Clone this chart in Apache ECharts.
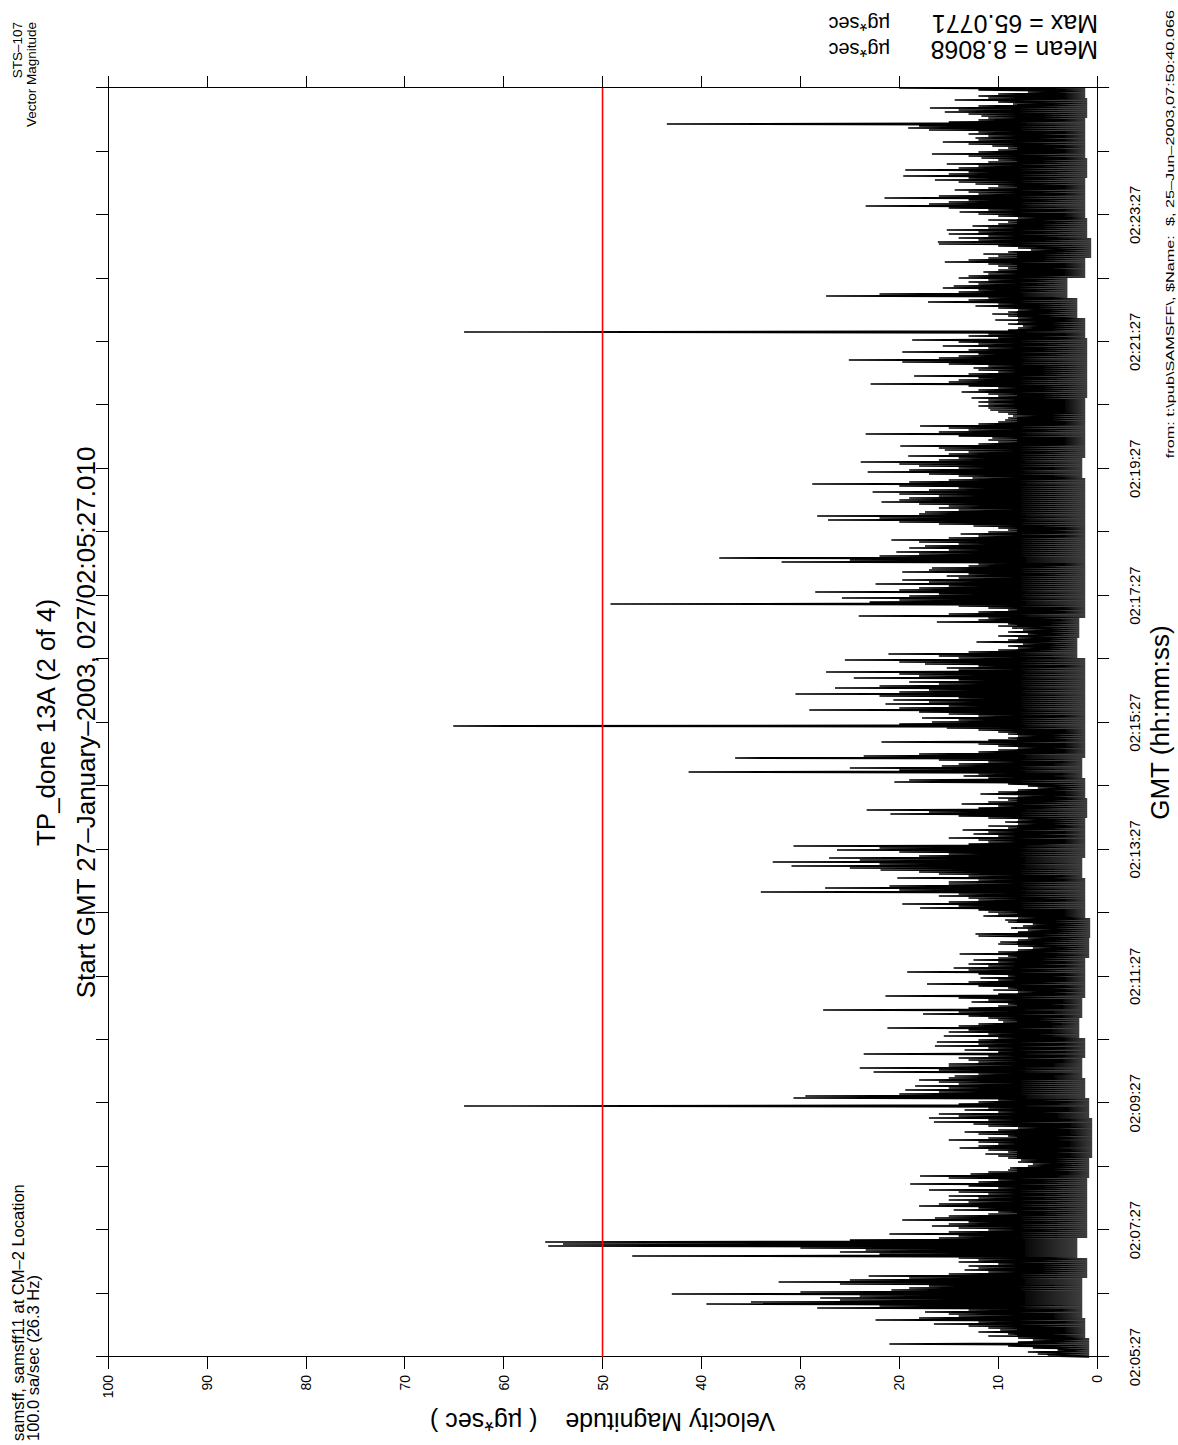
<!DOCTYPE html>
<html><head><meta charset="utf-8">
<script src="https://cdn.jsdelivr.net/npm/echarts@6/dist/echarts.min.js"></script>
<style>
html,body{margin:0;padding:0;width:1178px;height:1445px;overflow:hidden;background:#fff}
#chart{position:absolute;left:0;top:0;width:1445px;height:1178px;transform-origin:0 0;transform:translate(0,1445px) rotate(-90deg);}
</style></head><body><div id="chart"></div>
<script>
// Time tick labels (every 2 minutes, from 02:05:27)
const timeLabels = ['02:05:27','02:07:27','02:09:27','02:11:27','02:13:27','02:15:27','02:17:27','02:19:27','02:21:27','02:23:27'];
const durationSec = 1200;
// Upper envelope of |v| (µg*sec), one value per ~1.9 s
const hi = [
5,6,7,4,6.5,9,21,8,6.5,8, 11,9,12,9.8,11,13,16.5,12,22.4,18, 14,15,17.4,13,28.3,22,39.5,35,26,28,
24,43,30,20.8,19,17,26,32.2,25,19, 23.1,15,11,13.4,12,13,10,14,12,14, 47,22,26,23.4,30,55.5,54,55.8,25,16,
14,21,15,11,14,16.7,15,13,19.7,16.4, 15,11,10,14.5,12,18,16,
13,15,12,15,11,14,17,10,13,18.9, 12,10,15,17.9,12.8,11,9,8.8,7,6.5, 8,7.7,9,10,11.3,9,11,13.9,12,10,
12,15,11,9,12,13.4,10,8,11,12.5, 16.5,11,17,14,16,10,13.4,11,64,14, 12,10,30.7,29.5,20,16,19.4,15,18.4,14,
16,18,15,14.4,12,22.6,16,24,15,15, 12,13,14,11,23.6,10,13.4,11,16.4,12,
16.2,12,10,15.5,11,15,13,21.2,14,12, 9.5,10,11,13,17.6,14,27.7,13,10,9, 12.7,11,14,21.4,10,8,10.5,9,12,17.2,
13,10,11.8,9,12,19.2,13,14.5,11,13, 10,12.5,10,9,13.9,10,8,6.5,8,10, 9.8,8,7,12,12.3,8,7,8.7,7.5,6.5,
9,9.3,8,11.5,10,11,12,17.9,14,19.7, 15,12,13,16,14,34,20,27.5,21,15,
15,12,20.2,13,16,18,21.9,25,30.9,22, 32.8,24,27.1,18,15,20,26.3,22,30.7,13, 11,12,15,10,12.5,11,13.6,9,11,8,
9.3,8,11,14,20.9,17,23.3,12,10,13.7, 11,9,10,8,11.8,10,8,6,7,9, 20.5,19,11,13.5,12,41.3,20,25,15.7,14,
11,16,36.6,23.6,18,12,10,8,10,12, 21.8,11,9,8,9,10,12,15.2,65.1,20,
16.7,14,17.7,12,15,18,29.1,20,15,21.4, 17,20.6,14,22,30.5,20,17,26.5,22,16, 19,14,24.6,18,20,27.4,14,15.2,12,17.4,
20,25.5,14,16,21.1,13,10,8,9,7.5, 12.2,9,8,10,7,9,7.5,8.6,10,9, 16.2,12,11,24.1,15,12,9,11,14,49.2,
23,20,25.8,19,16,28.5,20,18,15,22.4, 17,19.7,14,15.2,13,19.7,17,16.7,13,12,
31.9,25,38.2,22,18,20.3,15,19,17.4,14, 18,20.8,15,12,13.8,11,9,10,12.5,16, 20,27.2,22,28.3,18,17.4,14,16,15,18,
21.8,20,19,16,20,22.7,17,14,20,28.8, 19,15,12.6,14,17,23.2,19,14,18,20, 23.9,16,14,19.1,15,13,15.4,16,19.9,12,
10,11,10.6,14,23.4,16,13,15,17.9,12, 10,9.3,9,8.5,9,10,10.8,11,12,11,
12,11,12.7,10,11,13.7,12,10,13,22.9, 15,14,12,18.5,13,10,12,12.5,11,15, 19.7,25.1,16,14,12,19.7,13,11,15.6,12,
14,18.7,10,13,11,64,9,8,7.5,9, 8,10.3,8,9,10.6,9,8,10,12.3,10, 17.1,13,11,27.4,22,14,12,15.6,14.5,12,
13,11,14,13,11,11.5,10,9,10,11, 15.4,13,11,10,11.5,9,6.7,8,10,16,
16.1,12,14,11,15,12,15.2,11,12.6,10, 9,11,8,10,12,13.9,11,15,23.4,17, 15,13,21.5,16,12,13,14.4,11,10,12.3,
14,16.4,13,19.6,15,13,19.4,14,12,15.2, 11,10,11.7,13,16.7,12,10,9,10.6,13, 15.6,12,12.3,11,13,12,17,19.1,18,43.5,
15,12,11,11.7,13,15.4,14,16.9,12,8.5, 10,14.4,11,12,10,7,12,20
];
// Lower envelope, one value per block of 10 samples
const lo = [
0.8,1.2,1.5,1.5,1,2,1,1, 1,0.8,0.5,0.5,0.8,1.2,1.5,1.2,
1.8,1.5,1.2,1.2,0.8,0.7,1.2,1.2, 1.5,1.2,1.2,1,1.2,1.5,1.2,1.2,
1.2,1.2,1.2,2,1.8,1.2,1.2,1.2, 1.2,1.2,1.2,1.2,1.5,1.2,1.2,1.2,
1,1,1,1.2,2,3,1.2,0.6, 1,1.2,1.2,1,1.2,1.2,1,1.2
];
const meanText = 'Mean = 8.8068';
const maxText = 'Max = 65.0771';
const unitText = 'µg*sec';
const thresholdValue = 50;

const FONT = '"Liberation Sans", Arial, Helvetica, sans-serif';
const step = durationSec / (hi.length - 0.5);
const pts = [];
hi.forEach((h, k) => {
  const t = k * step;
  pts.push([t, lo[Math.floor(k / 10)]]);
  pts.push([t + step / 2, h]);
});

const chart = echarts.init(document.getElementById('chart'), null, {renderer: 'svg'});
const axisCommon = {
  axisLine: {show: true, onZero: false, lineStyle: {color: '#000', width: 1}},
  axisTick: {show: true, inside: false, length: 12, lineStyle: {color: '#000', width: 1}},
  splitLine: {show: false}
};
const txt = (x, y, text, size, align, vAlign, rot, sx) => ({
  type: 'text', x: x, y: y, rotation: rot || 0, scaleX: sx || 1, silent: true,
  style: {text: text, fill: '#000', font: size + 'px ' + FONT, align: align, verticalAlign: vAlign}
});
chart.setOption({
  animation: false,
  backgroundColor: '#fff',
  textStyle: {fontFamily: FONT},
  grid: {left: 88, right: 88, top: 108, bottom: 79.5, containLabel: false},
  xAxis: [
    Object.assign({
      type: 'value', min: 0, max: durationSec, interval: 60, position: 'bottom',
      axisLabel: {show: true, margin: 30, color: '#000', fontSize: 15, fontFamily: FONT,
        formatter: v => (v % 120 === 0 && v < durationSec) ? timeLabels[v / 120] : ''},
      name: 'GMT (hh:mm:ss)', nameLocation: 'middle', nameGap: 43,
      nameTextStyle: {fontSize: 26, color: '#000', fontFamily: FONT}
    }, axisCommon),
    Object.assign({
      type: 'value', min: 0, max: durationSec, interval: 60, position: 'top',
      axisLabel: {show: false}
    }, axisCommon)
  ],
  yAxis: [
    Object.assign({
      type: 'value', min: 0, max: 100, interval: 10, position: 'left',
      axisLabel: {show: true, margin: 18, color: '#000', fontSize: 14, fontFamily: FONT},
      name: 'Velocity Magnitude    ( µg*sec )', nameLocation: 'middle', nameGap: 50, nameRotate: 90,
      nameTextStyle: {fontSize: 25, color: '#000', fontFamily: FONT}
    }, axisCommon),
    Object.assign({
      type: 'value', min: 0, max: 100, interval: 10, position: 'right',
      axisLabel: {show: false}
    }, axisCommon)
  ],
  series: [{
    type: 'line', data: pts, symbol: 'none', showSymbol: false, clip: true, z: 2,
    color: '#000', lineStyle: {color: '#000', width: 1.6}
  }, {
    type: 'line', data: [[0, thresholdValue], [durationSec, thresholdValue]],
    symbol: 'none', showSymbol: false, z: 3, silent: true,
    color: '#ff0000', lineStyle: {color: '#ff0000', width: 1.6, type: 'solid'}
  }],
  graphic: [
    txt(4, 18, 'samsff, samsff11 at CM–2 Location', 16.5, 'left', 'middle'),
    txt(4, 33, '100.0 sa/sec (26.3 Hz)', 16.5, 'left', 'middle'),
    txt(1423, 17, 'STS–107', 13.5, 'right', 'middle'),
    txt(1423, 31, 'Vector Magnitude', 13.5, 'right', 'middle'),
    txt(722.5, 46, 'TP_done 13A (2 of 4)', 26, 'center', 'middle'),
    txt(722.5, 86, 'Start GMT 27–January–2003, 027/02:05:27.010', 26, 'center', 'middle'),
    txt(1395, 1098, meanText, 25, 'left', 'middle', Math.PI / 2),
    txt(1395, 890, unitText, 20, 'left', 'middle', Math.PI / 2),
    txt(1421, 1098, maxText, 25, 'left', 'middle', Math.PI / 2),
    txt(1421, 890, unitText, 20, 'left', 'middle', Math.PI / 2),
    txt(1435, 1170, 'from: t:\\pub\\SAMSFF\\, $Name:  $, 25–Jun–2003,07:50:40.066', 11, 'right', 'middle', 0, 1.48)
  ]
});
</script></body></html>
